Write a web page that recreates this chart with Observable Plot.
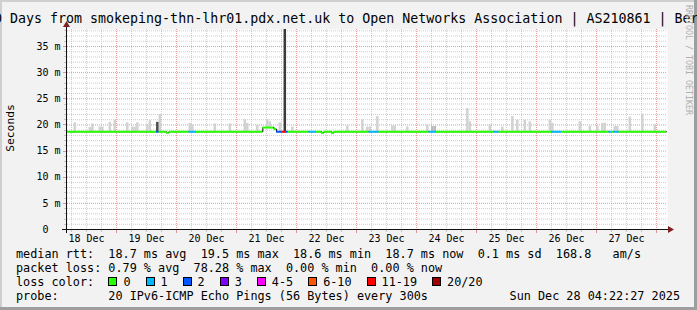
<!DOCTYPE html>
<html><head><meta charset="utf-8">
<script src="https://cdn.jsdelivr.net/npm/d3@7"></script>
<script src="https://cdn.jsdelivr.net/npm/@observablehq/plot@0.6"></script>
<style>
html,body{margin:0;padding:0;background:#f2f2f2;}
body{width:697px;height:310px;overflow:hidden;}
#chart{position:relative;width:697px;height:310px;background:#f2f2f2;overflow:hidden;font-family:"DejaVu Sans Mono",monospace;color:#000;}
.abs{position:absolute;white-space:pre;}
#chart svg{position:absolute;left:0;top:0;overflow:visible;}
</style></head><body>
<div id="chart"></div>
<script>
// ---------- data ----------
const titleText = "10 Days from smokeping-thn-lhr01.pdx.net.uk to Open Networks Association | AS210861 | Berlin";
const rangeStart = "2025-12-18T04:22:27Z";
const rangeEnd = "2025-12-28T04:22:27Z";

const lossLabels = ["0", "1", "2", "3", "4-5", "6-10", "11-19", "20/20"];
const lossColors = ["#26ff00", "#00b8ff", "#0059ff", "#7e00ff", "#ff00ff", "#ff5500", "#ff0000", "#a10000"];

// median rtt (ms) and loss class, changing at these times
const stepTimes = [
  "2025-12-18T04:22:27Z", "2025-12-19T16:00Z", "2025-12-19T17:00Z", "2025-12-19T20:00Z", "2025-12-19T21:00Z",
  "2025-12-20T05:00Z", "2025-12-20T08:00Z", "2025-12-21T10:30Z", "2025-12-21T15:00Z", "2025-12-21T16:00Z",
  "2025-12-21T18:00Z", "2025-12-21T20:00Z", "2025-12-21T20:40Z", "2025-12-22T05:00Z", "2025-12-22T08:00Z",
  "2025-12-22T10:00Z", "2025-12-22T11:00Z", "2025-12-22T14:00Z", "2025-12-22T15:00Z", "2025-12-23T05:00Z",
  "2025-12-23T09:00Z", "2025-12-24T05:00Z", "2025-12-24T08:00Z", "2025-12-25T07:00Z", "2025-12-25T09:00Z",
  "2025-12-26T06:00Z", "2025-12-26T10:00Z", "2025-12-27T05:00Z", "2025-12-27T06:00Z", "2025-12-27T07:00Z",
  "2025-12-27T09:00Z"
];
const stepMedian = [
  18.7, 18.7, 18.7, 18.5, 18.7,
  18.7, 18.7, 19.5, 19.2, 18.7,
  18.7, 18.7, 18.7, 18.7, 18.7,
  18.5, 18.7, 18.5, 18.7, 18.7,
  18.7, 18.7, 18.7, 18.7, 18.7,
  18.7, 18.7, 18.7, 18.7, 18.7,
  18.7
];
const stepLoss = [
  0, 2, 0, 0, 0,
  1, 0, 0, 0, 2,
  6, 2, 0, 1, 0,
  0, 0, 0, 0, 1,
  0, 1, 0, 1, 0,
  1, 0, 1, 0, 1,
  0
];
const lineEnd = "2025-12-28T04:00Z";

// smoke (ping spread): hour start, highest ping (ms)
const smokeTimes = [
  "2025-12-18T07:00Z", "2025-12-18T13:00Z", "2025-12-18T14:00Z", "2025-12-18T17:00Z", "2025-12-18T18:00Z",
  "2025-12-18T21:00Z", "2025-12-18T23:00Z", "2025-12-19T04:00Z", "2025-12-19T06:00Z", "2025-12-19T07:00Z",
  "2025-12-19T08:00Z", "2025-12-19T12:00Z", "2025-12-19T13:00Z", "2025-12-19T17:00Z", "2025-12-20T05:00Z",
  "2025-12-20T06:00Z", "2025-12-20T15:00Z", "2025-12-20T21:00Z", "2025-12-21T03:00Z", "2025-12-21T04:00Z",
  "2025-12-21T08:00Z", "2025-12-21T12:00Z", "2025-12-21T13:00Z", "2025-12-21T17:00Z", "2025-12-21T22:00Z",
  "2025-12-22T20:00Z", "2025-12-23T02:00Z", "2025-12-23T04:00Z", "2025-12-23T05:00Z", "2025-12-23T08:00Z",
  "2025-12-23T14:00Z", "2025-12-23T15:00Z", "2025-12-23T20:00Z", "2025-12-24T04:00Z", "2025-12-24T20:00Z",
  "2025-12-24T21:00Z", "2025-12-25T05:00Z", "2025-12-25T10:00Z", "2025-12-25T14:00Z", "2025-12-25T16:00Z",
  "2025-12-25T19:00Z", "2025-12-25T21:00Z", "2025-12-26T05:00Z", "2025-12-26T06:00Z", "2025-12-26T17:00Z",
  "2025-12-26T21:00Z", "2025-12-27T00:00Z", "2025-12-27T02:00Z", "2025-12-27T03:00Z", "2025-12-27T07:00Z",
  "2025-12-27T08:00Z", "2025-12-27T13:00Z", "2025-12-27T18:00Z", "2025-12-27T23:00Z"
];
const smokeHigh = [
  20.4, 19.5, 20.2, 19.6, 19.6,
  20.5, 20.9, 20.4, 19.6, 19.6,
  20.4, 20.0, 20.8, 22.0, 20.3,
  20.0, 20.2, 20.2, 21.0, 20.3,
  19.9, 21.0, 20.6, 20.4, 19.6,
  19.8, 21.0, 19.6, 19.6, 21.6,
  19.8, 19.8, 19.6, 20.0, 23.1,
  20.6, 20.0, 19.6, 21.6, 20.9,
  20.9, 20.6, 20.9, 20.3, 20.6,
  19.7, 19.7, 20.3, 20.3, 19.7,
  19.7, 21.5, 22.0, 20.0
];
// darker smoke: hour start, highest ping (ms), shade
const darkSmoke = [
  ["2025-12-19T16:00Z", 20.5, "#4d4d4d"],
  ["2025-12-21T19:00Z", 45, "#3a3a3a"],
  ["2025-12-24T06:00Z", 19.7, "#bababa"],
  ["2025-12-24T07:00Z", 19.7, "#bababa"]
];

const dayNoons = ["2025-12-18T12:00Z", "2025-12-19T12:00Z", "2025-12-20T12:00Z", "2025-12-21T12:00Z", "2025-12-22T12:00Z",
  "2025-12-23T12:00Z", "2025-12-24T12:00Z", "2025-12-25T12:00Z", "2025-12-26T12:00Z", "2025-12-27T12:00Z"];
const dayLabels = ["18 Dec", "19 Dec", "20 Dec", "21 Dec", "22 Dec", "23 Dec", "24 Dec", "25 Dec", "26 Dec", "27 Dec"];
const yTicks = [0, 5, 10, 15, 20, 25, 30, 35];
const yTickLabels = ["0\u00a0\u00a0", "5 m", "10 m", "15 m", "20 m", "25 m", "30 m", "35 m"];

const statRows = [
  "median rtt:  18.7 ms avg  19.5 ms max  18.6 ms min  18.7 ms now  0.1 ms sd  168.8   am/s",
  "packet loss: 0.79 % avg  78.28 % max  0.00 % min  0.00 % now",
  "loss color:",
  "probe:       20 IPv6-ICMP Echo Pings (56 Bytes) every 300s"
];
const stampText = "Sun Dec 28 04:22:27 2025";

// ---------- build ----------
const HOUR = 3600e3;
const steps = stepTimes.map((t, i) => ({
  t: new Date(t), t2: new Date(stepTimes[i + 1] ?? lineEnd),
  median: stepMedian[i], color: lossColors[stepLoss[i]]
}));
const linePts = [...steps.map(s => ({t: s.t, median: s.median})), {t: new Date(lineEnd), median: stepMedian[stepMedian.length - 1]}];
const medianAt = t => { let m = stepMedian[0]; for (const s of steps) if (s.t <= t) m = s.median; return m; };
const smoke = smokeTimes.map((t, i) => { const d = new Date(t); return {t: d, t2: new Date(+d + HOUR), lo: medianAt(d), hi: smokeHigh[i]}; });
const dark = darkSmoke.map(([t, hi, shade]) => { const d = new Date(t); return {t: d, t2: new Date(+d + HOUR), lo: medianAt(d), hi, shade}; });

const x0d = new Date(rangeStart), x1d = new Date(rangeEnd);
const xSix = d3.utcHour.every(6).range(x0d, x1d);
const xMinor = xSix.filter(d => d.getUTCHours() !== 0);
const xMajor = xSix.filter(d => d.getUTCHours() === 0);
const yMinor = d3.range(1, 39).filter(v => v % 5 !== 0);
const yMajor = yTicks.filter(v => v > 0);
const labelByTime = new Map(dayNoons.map((d, i) => [+new Date(d), dayLabels[i]]));
const yLabelByValue = new Map(yTicks.map((v, i) => [v, yTickLabels[i]]));

const gridGray = {stroke: "#8f8f8f", strokeOpacity: 0.45, strokeDasharray: "1,1"};
const gridRed = {stroke: "#de5050", strokeOpacity: 0.6, strokeDasharray: "1,1"};

const chart = document.getElementById("chart");

// frame shading (drawn first, texts go over it)
const edges = [
  {left: "0", top: "0", width: "697px", height: "2px", background: "#cfcfcf"},
  {left: "0", top: "0", width: "2px", height: "310px", background: "#cfcfcf"},
  {right: "0", top: "0", width: "3px", height: "310px", background: "#9e9e9e"},
  {left: "0", bottom: "0", width: "697px", height: "3px", background: "#9e9e9e"}
];
for (const e of edges) { const d = document.createElement("div"); Object.assign(d.style, {position: "absolute"}, e); chart.appendChild(d); }

const plot = Plot.plot({
  width: 697, height: 245,
  marginLeft: 67, marginRight: 30, marginTop: 29, marginBottom: 16,
  x: {type: "utc", domain: [x0d, x1d]},
  y: {domain: [0, 38.25]},
  color: {type: "identity"},
  style: {background: "transparent", fontFamily: "'DejaVu Sans Mono', monospace", fontSize: "10px", color: "#000"},
  marks: [
    Plot.frame({fill: "#ffffff", stroke: "none"}),
    Plot.ruleY(yMinor, gridGray),
    Plot.ruleX(xMinor, gridGray),
    Plot.ruleY(yMajor, gridRed),
    Plot.ruleX(xMajor, gridRed),
    Plot.rect(smoke, {x1: "t", x2: "t2", y1: "lo", y2: "hi", fill: "#d2d2d2"}),
    Plot.rect(dark, {x1: "t", x2: "t2", y1: "lo", y2: "hi", fill: "shade", clip: true}),
    Plot.line(linePts, {x: "t", y: "median", curve: "step-after", stroke: "#000", strokeWidth: 1}),
    Plot.ruleY(steps, {x1: "t", x2: "t2", y: "median", stroke: "color", strokeWidth: 2}),
    Plot.axisY(yTicks, {tickSize: 0, tickPadding: 7, tickFormat: v => yLabelByValue.get(v), fontSize: 10, label: null}),
    Plot.axisX(dayNoons.map(d => new Date(d)), {tickSize: 0, tickPadding: 5, tickFormat: d => labelByTime.get(+d), fontSize: 10, label: null})
  ]
});
chart.appendChild(plot);

// axes lines, axis ticks and arrows
const X = plot.scale("x"), Y = plot.scale("y");
const px0 = X.apply(x0d), px1 = X.apply(x1d), py0 = Y.apply(0), pyTop = Y.apply(38.25);
const svg = d3.select(plot);
const g = svg.append("g");
for (const v of yMinor) g.append("line").attr("x1", px0 - 3).attr("x2", px0).attr("y1", Math.round(Y.apply(v)) + 0.5).attr("y2", Math.round(Y.apply(v)) + 0.5).attr("stroke", "#8f8f8f").attr("stroke-opacity", 0.45);
for (const v of yMajor) g.append("line").attr("x1", px0 - 4).attr("x2", px0).attr("y1", Math.round(Y.apply(v)) + 0.5).attr("y2", Math.round(Y.apply(v)) + 0.5).attr("stroke", "#de5050").attr("stroke-opacity", 0.6);
for (const d of xMinor) g.append("line").attr("x1", Math.round(X.apply(d)) + 0.5).attr("x2", Math.round(X.apply(d)) + 0.5).attr("y1", py0).attr("y2", py0 + 3).attr("stroke", "#8f8f8f").attr("stroke-opacity", 0.45);
for (const d of xMajor) g.append("line").attr("x1", Math.round(X.apply(d)) + 0.5).attr("x2", Math.round(X.apply(d)) + 0.5).attr("y1", py0).attr("y2", py0 + 4).attr("stroke", "#de5050").attr("stroke-opacity", 0.6);
const ay = Math.round(py0) + 0.5, ax = Math.round(px0) - 0.5;
g.append("line").attr("x1", px0 - 5).attr("x2", px1 + 2).attr("y1", ay).attr("y2", ay).attr("stroke", "#111");
g.append("line").attr("x1", ax).attr("x2", ax).attr("y1", py0 + 4).attr("y2", pyTop - 3).attr("stroke", "#111");
g.append("path").attr("d", `M${px1 + 1},${ay - 3.5}L${px1 + 7},${ay}L${px1 + 1},${ay + 3.5}Z`).attr("fill", "#7f1f1f");
g.append("path").attr("d", `M${ax - 3.5},${pyTop - 2}L${ax},${pyTop - 8}L${ax + 3.5},${pyTop - 2}Z`).attr("fill", "#7f1f1f");

// texts
function addDiv(text, style) {
  const d = document.createElement("div");
  d.className = "abs";
  d.textContent = text;
  Object.assign(d.style, style);
  chart.appendChild(d);
  return d;
}
addDiv(titleText, {left: "-14px", top: "11px", fontSize: "13.3px", lineHeight: "16px"});
addDiv("Seconds", {left: "10px", top: "128px", fontSize: "11.3px", lineHeight: "13px", transform: "translate(-50%,-50%) rotate(-90deg)"});
addDiv("RRDTOOL / TOBI OETIKER", {left: "688px", top: "60px", fontSize: "8.3px", lineHeight: "9px", color: "#b0b0b0", transform: "translate(-50%,-50%) rotate(90deg)"});

const rowTops = [247, 261, 275, 289];
statRows.forEach((r, i) => addDiv(r, {left: "16px", top: rowTops[i] + "px", fontSize: "11.8px", lineHeight: "14px"}));
addDiv(stampText, {right: "17px", top: rowTops[3] + "px", fontSize: "11.8px", lineHeight: "14px"});

// loss colour legend boxes
const cw = 11.8 * 0.602;
let bx = 108.4;
lossLabels.forEach((lab, i) => {
  const b = document.createElement("div");
  Object.assign(b.style, {position: "absolute", left: bx + "px", top: "277px", width: "9px", height: "9px", boxSizing: "border-box", border: "1px solid #000", background: lossColors[i]});
  chart.appendChild(b);
  addDiv(lab, {left: (bx + 15) + "px", top: rowTops[2] + "px", fontSize: "11.8px", lineHeight: "14px"});
  bx += 9 + 6 + lab.length * cw + 15;
});
</script>
</body></html>
